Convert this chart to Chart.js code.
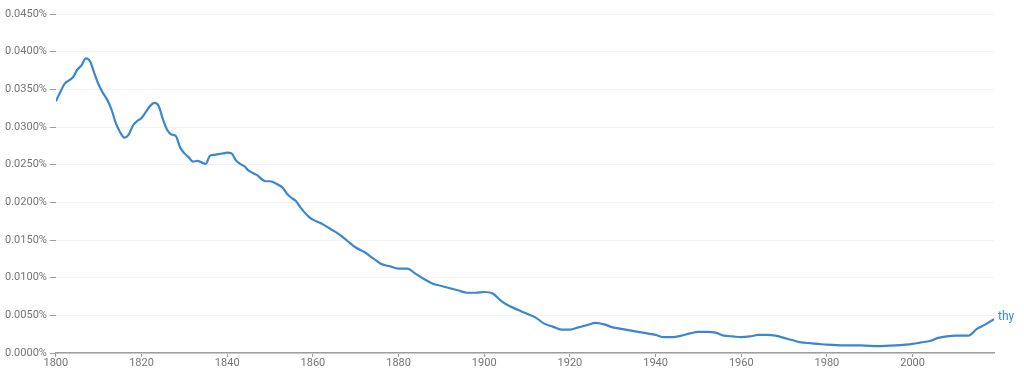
<!DOCTYPE html>
<html>
<head>
<meta charset="utf-8">
<script src="https://cdn.jsdelivr.net/npm/chart.js@4"></script>
<style>
    html, body { margin: 0; padding: 0; background: #fff; }
    #wrap { width: 1024px; height: 370px; position: relative; }
</style>
</head>
<body>
<div id="wrap"><canvas id="ngramChart"></canvas></div>
<script>
// Data (percent of words)
const YEARS = [
    1800, 1801, 1802, 1804, 1805, 1806, 1807, 1808, 1809, 1810,
    1811, 1812, 1813, 1814, 1815, 1816, 1817, 1818, 1819, 1820,
    1821, 1822, 1823, 1824, 1825, 1826, 1827, 1828, 1829, 1830,
    1831, 1832, 1833, 1834, 1835, 1836, 1837, 1838, 1839, 1840,
    1841, 1842, 1843, 1844, 1845, 1846, 1847, 1848, 1849, 1850,
    1851, 1852, 1853, 1854, 1855, 1856, 1857, 1858, 1859, 1860,
    1862, 1864, 1866, 1868, 1870, 1872, 1874, 1876, 1878, 1880,
    1882, 1884, 1886, 1888, 1890, 1892, 1894, 1896, 1898, 1900,
    1902, 1904, 1906, 1908, 1910, 1912, 1914, 1916, 1918, 1920,
    1922, 1924, 1926, 1928, 1930, 1932, 1934, 1936, 1938, 1940,
    1942, 1944, 1946, 1948, 1950, 1952, 1954, 1956, 1958, 1960,
    1962, 1964, 1966, 1968, 1970, 1972, 1974, 1976, 1978, 1980,
    1984, 1988, 1992, 1996, 2000, 2002, 2004, 2006, 2008, 2010,
    2013, 2015, 2017, 2019
];

const THY_VALUES = [
    0.0334, 0.0346, 0.0357, 0.0366, 0.0376, 0.0382, 0.0391, 0.0387, 0.0371, 0.0356,
    0.0345, 0.0336, 0.0323, 0.0305, 0.0293, 0.0286, 0.0290, 0.0302, 0.0308, 0.0312,
    0.0320, 0.0328, 0.0332, 0.0328, 0.0310, 0.0296, 0.0290, 0.0288, 0.0273, 0.0265,
    0.0260, 0.0254, 0.0255, 0.0253, 0.0251, 0.0262, 0.0263, 0.0264, 0.0265, 0.0266,
    0.0265, 0.0256, 0.0251, 0.0248, 0.0242, 0.0239, 0.0236, 0.0231, 0.0228, 0.0228,
    0.0226, 0.0223, 0.0219, 0.0211, 0.0206, 0.0202, 0.0194, 0.0187, 0.0181, 0.0177,
    0.0172, 0.0165, 0.0158, 0.0149, 0.0140, 0.0134, 0.0126, 0.0118, 0.0115, 0.0112,
    0.0112, 0.0105, 0.0098, 0.0092, 0.0089, 0.0086, 0.0083, 0.0080, 0.0080, 0.0081,
    0.0079, 0.0069, 0.0062, 0.0057, 0.0052, 0.0047, 0.0039, 0.0035, 0.0031, 0.0031,
    0.0034, 0.0037, 0.0040, 0.0038, 0.0034, 0.0032, 0.0030, 0.0028, 0.0026, 0.0024,
    0.0021, 0.0021, 0.0023, 0.0026, 0.0028, 0.0028, 0.0027, 0.0023, 0.0022, 0.0021,
    0.0022, 0.0024, 0.0024, 0.0023, 0.0020, 0.0017, 0.0014, 0.0013, 0.0012, 0.0011,
    0.0010, 0.0010, 0.0009, 0.0010, 0.0012, 0.0014, 0.0016, 0.0020, 0.0022, 0.0023,
    0.0023, 0.0032, 0.0038, 0.0045
];

const SERIES_LABEL = 'thy';
const X_TICK_STEP = 20;

const LINE_COLOR = '#3a87cf';
const TEXT_COLOR = '#757575';

// Series name next to the end of the line
const endLabelPlugin = {
    id: 'endLabel',
    afterDatasetsDraw(chart) {
        const meta = chart.getDatasetMeta(0);
        const last = meta.data[meta.data.length - 1];
        if (!last) return;
        const ctx = chart.ctx;
        ctx.save();
        ctx.font = '12px Roboto, "Noto Sans", sans-serif';
        ctx.fillStyle = LINE_COLOR;
        ctx.textBaseline = 'middle';
        ctx.textAlign = 'left';
        ctx.fillText(chart.data.datasets[0].label, last.x + 4, last.y - 2);
        ctx.restore();
    }
};

const points = YEARS.map((y, i) => ({ x: y, y: THY_VALUES[i] }));

new Chart(document.getElementById('ngramChart'), {
    type: 'line',
    data: {
        datasets: [{
            label: SERIES_LABEL,
            data: points,
            borderColor: LINE_COLOR,
            borderWidth: 2.2,
            pointRadius: 0,
            fill: false,
            cubicInterpolationMode: 'monotone'
        }]
    },
    options: {
        responsive: true,
        maintainAspectRatio: false,
        animation: false,
        layout: {
            padding: { left: 2, right: 30, top: 14, bottom: 0 }
        },
        plugins: {
            legend: { display: false },
            tooltip: { enabled: false }
        },
        scales: {
            x: {
                type: 'linear',
                min: 1800,
                max: 2019,
                afterBuildTicks: axis => {
                    axis.ticks = axis.ticks.filter(t => t.value % X_TICK_STEP === 0);
                },
                ticks: {
                    stepSize: X_TICK_STEP,
                    color: TEXT_COLOR,
                    font: { family: 'Roboto', size: 11, lineHeight: 1 },
                    padding: 1,
                    maxRotation: 0,
                    callback: v => String(v)
                },
                grid: {
                    drawOnChartArea: false,
                    drawTicks: true,
                    tickLength: 4,
                    tickColor: '#9e9e9e'
                },
                border: {
                    display: true,
                    color: '#9e9e9e',
                    width: 1.5
                }
            },
            y: {
                min: 0,
                max: 0.045,
                ticks: {
                    stepSize: 0.005,
                    color: TEXT_COLOR,
                    font: { family: 'Roboto', size: 11 },
                    padding: 3,
                    callback: v => v.toFixed(4) + '%'
                },
                grid: {
                    color: '#f3f3f3',
                    tickColor: '#9e9e9e',
                    tickLength: 6
                },
                border: { display: false }
            }
        }
    },
    plugins: [endLabelPlugin]
});
</script>
</body>
</html>
